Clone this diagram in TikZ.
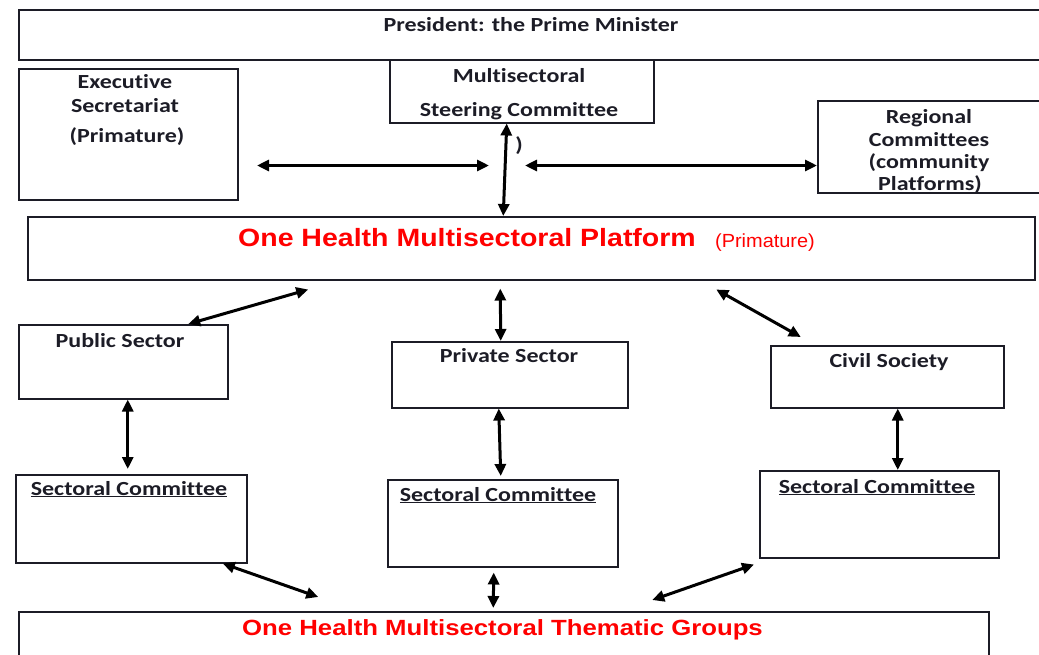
\documentclass[tikz,border=0pt]{standalone}
\usepackage{fontspec}
\setmainfont[Ligatures=NoCommon]{Carlito}
\newfontfamily\arialf{Liberation Sans}
\usetikzlibrary{arrows.meta,calc}
\definecolor{ink}{RGB}{28,28,38}
\definecolor{redt}{RGB}{255,0,0}
\newcommand{\lbl}[1]{\scalebox{1.2}[1]{\fontsize{20}{22}\selectfont\bfseries #1}}
\begin{document}
\begin{tikzpicture}[x=1pt,y=-1pt,
  box/.style={draw=ink, line width=1.5pt, inner sep=0pt, anchor=north west},
  lab/.style={text=ink, inner sep=0pt, anchor=base},
  arr/.style={draw=black, line width=3pt, {Triangle[length=12pt,width=11pt]}-{Triangle[length=12pt,width=11pt]}}]
\useasboundingbox (0,0) rectangle (1039,654);
% boxes
\node[box, minimum width=1027pt, minimum height=50pt] (pres) at (18,9) {};
\node[box, minimum width=219pt, minimum height=131pt] (exec) at (18,68) {};
\node[box, minimum width=264pt, minimum height=63pt] (steer) at (389,59) {};
\node[box, minimum width=228pt, minimum height=92pt] (reg) at (817,100) {};
\node[box, minimum width=1007pt, minimum height=63pt] (plat) at (27,216) {};
\node[box, minimum width=209pt, minimum height=74pt] (pub) at (18,324) {};
\node[box, minimum width=236pt, minimum height=66pt] (priv) at (391,341) {};
\node[box, minimum width=233pt, minimum height=62pt] (civ) at (770,345) {};
\node[box, minimum width=231pt, minimum height=88pt] (sc1) at (15,474) {};
\node[box, minimum width=230pt, minimum height=87pt] (sc2) at (387,479) {};
\node[box, minimum width=239pt, minimum height=87pt] (sc3) at (759,470) {};
\node[box, minimum width=970pt, minimum height=60pt] (them) at (18,611) {};
% texts
\node[lab] (tpres) at (531,31) {\lbl{President: the Prime Minister}};
\node[lab] (texec1) at (125,88) {\lbl{Executive}};
\node[lab] (texec2) at (125,112) {\lbl{Secretariat}};
\node[lab] (texec3) at (127,142) {\lbl{(Primature)}};
\node[lab] (tsteer1) at (519,82) {\lbl{Multisectoral}};
\node[lab] (tsteer2) at (519,116) {\lbl{Steering Committee}};
\node[lab] (tparen) at (519,151) {\lbl{)}};
\node[lab] (treg1) at (929,123) {\lbl{Regional}};
\node[lab] (treg2) at (929,146) {\lbl{Committees}};
\node[lab] (treg3) at (929,168) {\lbl{(community}};
\node[lab] (treg4) at (930,190) {\lbl{Platforms)}};
\node[lab, text=redt] (tplat) at (467,246) {\scalebox{1.14}[1]{\arialf\bfseries\fontsize{25}{28}\selectfont One Health Multisectoral Platform}};
\node[lab, text=redt] (tplat2) at (765,247) {\scalebox{1.05}[1]{\arialf\fontsize{19}{22}\selectfont (Primature)}};
\node[lab] (tpub) at (120,347) {\lbl{Public Sector}};
\node[lab] (tpriv) at (509,362) {\lbl{Private Sector}};
\node[lab] (tciv) at (889,367) {\lbl{Civil Society}};
\node[lab] (tsc1) at (129,495) {\lbl{\underline{Sectoral Committee}}};
\node[lab] (tsc2) at (498,501) {\lbl{\underline{Sectoral Committee}}};
\node[lab] (tsc3) at (877,493) {\lbl{\underline{Sectoral Committee}}};
\node[lab, text=redt] (tthem) at (502.5,635) {\scalebox{1.17}[1]{\arialf\bfseries\fontsize{22}{26}\selectfont One Health Multisectoral Thematic Groups}};
% arrow ends
\coordinate (h1l) at (257,165.5);
\coordinate (h1r) at (489,165.5);
\coordinate (h2l) at (525,165.5);
% connectors
\draw[arr] (h1l) -- (h1r);
\draw[arr] (h2l) -- (reg.west |- h2l);
\draw[arr] ([xshift=-15pt]steer.south) -- ([xshift=-28pt]plat.north);
\draw[arr] ([xshift=-223pt,yshift=-9pt]plat.south) -- ([xshift=65pt]pub.north);
\draw[arr] ([xshift=-31pt,yshift=-8pt]plat.south) -- ([xshift=-9pt]priv.north);
\draw[arr] ([xshift=185pt,yshift=-9pt]plat.south) -- ([xshift=-86.5pt,yshift=8pt]civ.north);
\draw[arr] ([xshift=4.5pt]pub.south) -- ([xshift=-3.5pt,yshift=5pt]sc1.north);
\draw[arr] ([xshift=-11pt]priv.south) -- ([xshift=-2pt,yshift=3pt]sc2.north);
\draw[arr] ([xshift=10.5pt]civ.south) -- ([xshift=18.5pt]sc3.north);
\draw[arr] ([xshift=91.5pt]sc1.south) -- ([xshift=-185.5pt,yshift=14pt]them.north);
\draw[arr] ([xshift=-9pt,yshift=-5pt]sc2.south) -- ([xshift=-10.5pt,yshift=3pt]them.north);
\draw[arr] ([xshift=-5pt,yshift=-6pt]sc3.south west) -- ([xshift=148.5pt,yshift=11pt]them.north);
\end{tikzpicture}
\end{document}
